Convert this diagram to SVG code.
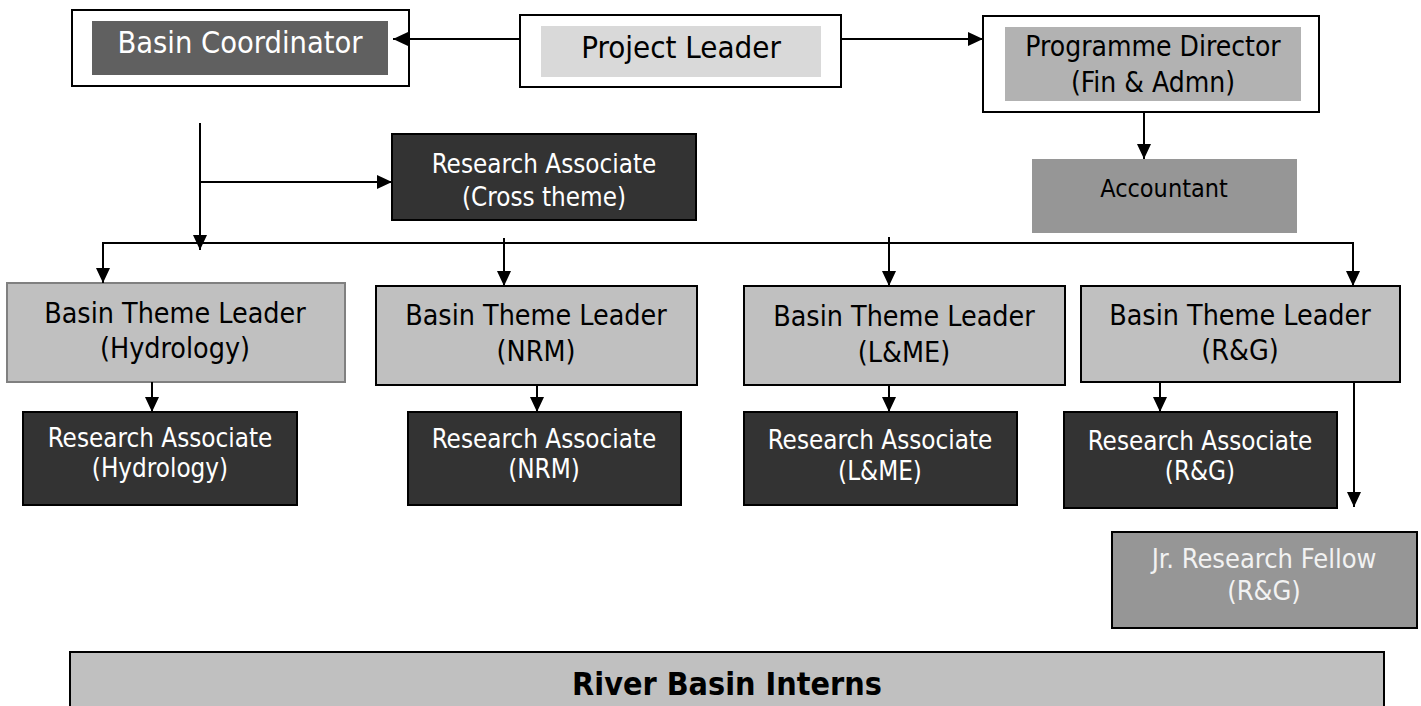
<svg xmlns="http://www.w3.org/2000/svg" width="1421" height="706" viewBox="0 0 1421 706">
  <style>
    text { font-family: "DejaVu Sans Condensed", "DejaVu Sans", sans-serif; text-anchor: middle; }
    .frame { fill: #ffffff; stroke: #000000; stroke-width: 2; }
    .dark { fill: #333333; stroke: #000000; stroke-width: 2; }
    .theme { fill: #c0c0c0; stroke: #000000; stroke-width: 2; }
    .mid { fill: #969696; stroke: #000000; stroke-width: 2; }
    .t-white { fill: #ffffff; }
    .t-black { fill: #000000; }
    .link { fill: none; stroke: #000000; stroke-width: 2; }
  </style>
  <defs>
    <marker id="arrow" markerUnits="userSpaceOnUse" markerWidth="16" markerHeight="14" refX="15" refY="7" orient="auto">
      <path d="M0,0 L15,7 L0,14 z" fill="#000000"/>
    </marker>
  </defs>

  <rect width="1421" height="706" fill="#ffffff"/>

  <!-- top row -->
  <g id="basin-coordinator">
    <rect class="frame" x="72" y="10" width="337" height="76"/>
    <rect x="92" y="21" width="296" height="54" fill="#606060"/>
    <text class="t-white" x="240" y="53" font-size="30.5">Basin Coordinator</text>
  </g>

  <g id="project-leader">
    <rect class="frame" x="520" y="15" width="321" height="72"/>
    <rect x="541" y="26" width="280" height="51" fill="#d9d9d9"/>
    <text class="t-black" x="681" y="58" font-size="31">Project Leader</text>
  </g>

  <g id="programme-director">
    <rect class="frame" x="983" y="16" width="336" height="96"/>
    <rect x="1005" y="27" width="296" height="74" fill="#b2b2b2"/>
    <text class="t-black" x="1153" y="56" font-size="28">Programme Director</text>
    <text class="t-black" x="1153" y="92" font-size="28">(Fin &amp; Admn)</text>
  </g>

  <g id="accountant">
    <rect x="1032" y="159" width="265" height="74" fill="#969696"/>
    <text class="t-black" x="1164" y="197" font-size="25">Accountant</text>
  </g>

  <g id="ra-cross-theme">
    <rect class="dark" x="392" y="134" width="304" height="86"/>
    <text class="t-white" x="544" y="173" font-size="25.8">Research Associate</text>
    <text class="t-white" x="544" y="206" font-size="25.8">(Cross theme)</text>
  </g>

  <!-- theme leaders -->
  <g id="btl-hydrology">
    <rect x="7" y="283" width="338" height="99" fill="#c0c0c0" stroke="#808080" stroke-width="2"/>
    <text class="t-black" x="175" y="323" font-size="28.4">Basin Theme Leader</text>
    <text class="t-black" x="175" y="358" font-size="28.4">(Hydrology)</text>
  </g>

  <g id="btl-nrm">
    <rect class="theme" x="376" y="286" width="321" height="99"/>
    <text class="t-black" x="536" y="325" font-size="28.4">Basin Theme Leader</text>
    <text class="t-black" x="536" y="361" font-size="28.4">(NRM)</text>
  </g>

  <g id="btl-lme">
    <rect class="theme" x="744" y="286" width="321" height="99"/>
    <text class="t-black" x="904" y="326" font-size="28.4">Basin Theme Leader</text>
    <text class="t-black" x="904" y="362" font-size="28.4">(L&amp;ME)</text>
  </g>

  <g id="btl-rg">
    <rect class="theme" x="1081" y="286" width="319" height="96"/>
    <text class="t-black" x="1240" y="325" font-size="28.4">Basin Theme Leader</text>
    <text class="t-black" x="1240" y="360" font-size="28.4">(R&amp;G)</text>
  </g>

  <!-- research associates -->
  <g id="ra-hydrology">
    <rect class="dark" x="23" y="412" width="274" height="93"/>
    <text class="t-white" x="160" y="447" font-size="25.8">Research Associate</text>
    <text class="t-white" x="160" y="477" font-size="25.8">(Hydrology)</text>
  </g>

  <g id="ra-nrm">
    <rect class="dark" x="408" y="412" width="273" height="93"/>
    <text class="t-white" x="544" y="448" font-size="25.8">Research Associate</text>
    <text class="t-white" x="544" y="478" font-size="25.8">(NRM)</text>
  </g>

  <g id="ra-lme">
    <rect class="dark" x="744" y="412" width="273" height="93"/>
    <text class="t-white" x="880" y="449" font-size="25.8">Research Associate</text>
    <text class="t-white" x="880" y="480" font-size="25.8">(L&amp;ME)</text>
  </g>

  <g id="ra-rg">
    <rect class="dark" x="1064" y="412" width="273" height="96"/>
    <text class="t-white" x="1200" y="450" font-size="25.8">Research Associate</text>
    <text class="t-white" x="1200" y="480" font-size="25.8">(R&amp;G)</text>
  </g>

  <g id="jrf-rg">
    <rect class="mid" x="1112" y="532" width="305" height="96"/>
    <text x="1264" y="568" font-size="27" fill="#f2f2f2">Jr. Research Fellow</text>
    <text x="1264" y="600" font-size="27" fill="#f2f2f2">(R&amp;G)</text>
  </g>

  <g id="river-basin-interns">
    <rect class="theme" x="70" y="652" width="1314" height="64"/>
    <text class="t-black" x="727" y="695" font-size="32" font-weight="bold">River Basin Interns</text>
  </g>

  <!-- reporting lines -->
  <g id="connectors">
    <line class="link" x1="520" y1="39" x2="393" y2="39" marker-end="url(#arrow)"/>
    <line class="link" x1="841" y1="39" x2="983" y2="39" marker-end="url(#arrow)"/>
    <line class="link" x1="1144" y1="112" x2="1144" y2="159" marker-end="url(#arrow)"/>

    <line class="link" x1="200" y1="123" x2="200" y2="250" marker-end="url(#arrow)"/>
    <line class="link" x1="200" y1="182" x2="392" y2="182" marker-end="url(#arrow)"/>

    <line class="link" x1="102" y1="243" x2="1354" y2="243"/>
    <line class="link" x1="103" y1="242" x2="103" y2="283" marker-end="url(#arrow)"/>
    <line class="link" x1="504" y1="238" x2="504" y2="286" marker-end="url(#arrow)"/>
    <line class="link" x1="889" y1="237" x2="889" y2="286" marker-end="url(#arrow)"/>
    <line class="link" x1="1353" y1="242" x2="1353" y2="286" marker-end="url(#arrow)"/>

    <line class="link" x1="152" y1="382" x2="152" y2="412" marker-end="url(#arrow)"/>
    <line class="link" x1="537" y1="385" x2="537" y2="412" marker-end="url(#arrow)"/>
    <line class="link" x1="889" y1="385" x2="889" y2="412" marker-end="url(#arrow)"/>
    <line class="link" x1="1160" y1="382" x2="1160" y2="412" marker-end="url(#arrow)"/>

    <line class="link" x1="1354" y1="382" x2="1354" y2="507" marker-end="url(#arrow)"/>
  </g>
</svg>
